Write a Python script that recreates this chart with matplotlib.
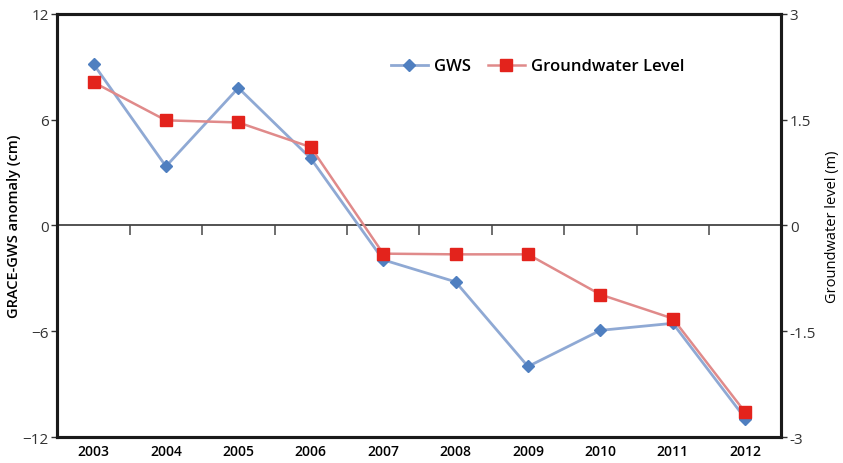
import matplotlib.pyplot as plt
import numpy as np

years = ["2003", "2004", "2005", "2006", "2007", "2008", "2009", "2010", "2011", "2012"]
gws = [9.15, 3.35, 7.8, 3.8, -1.95, -3.2, -8.0, -5.95, -5.55, -10.95]
gw_level = [2.03, 1.49, 1.46, 1.11, -0.40, -0.41, -0.41, -0.98, -1.32, -2.65]

plt.rcParams['font.family'] = ['Open Sans', 'DejaVu Sans']

fig, ax1 = plt.subplots(figsize=(8.43, 4.64), dpi=100)
fig.subplots_adjust(left=0.068, right=0.927, top=0.968, bottom=0.056)
ax2 = ax1.twinx()

x = np.arange(len(years))

l1 = ax1.plot(x, gws, color="#8fa9d4", lw=2, marker="D", ms=6,
              mfc="#4f7fc0", mec="#4f7fc0", label="GWS")
l2 = ax2.plot(x, gw_level, color="#e08a8a", lw=1.8, marker="s", ms=9,
              mfc="#e3231c", mec="#e3231c", label="Groundwater Level")

ax1.set_xlim(-0.5, len(years) - 0.5)
ax1.set_ylim(-12, 12)
ax1.set_yticks([-12, -6, 0, 6, 12])
ax2.set_ylim(-3, 3)
ax2.set_yticks([-3, -1.5, 0, 1.5, 3])
ax2.set_yticklabels(["-3", "-1.5", "0", "1.5", "3"])

ax1.set_xticks(x)
ax1.set_xticklabels(years, fontweight="semibold", fontsize=10)
ax1.tick_params(axis="x", length=0, pad=5)
ax1.tick_params(axis="y", length=4, width=1, direction="out", labelsize=11, colors="#333333", pad=2)
ax2.tick_params(axis="y", length=4, width=1, direction="out", labelsize=11, colors="#333333", pad=2)

for ax in (ax1, ax2):
    for s in ax.spines.values():
        s.set_linewidth(2.2)
        s.set_color("#1a1a1a")

# zero line with category separators (ticks hang below the line)
sec = ax1.secondary_xaxis(0.5)
sec.set_xticks(x[:-1] + 0.5)
sec.set_xticklabels([])
sec.tick_params(length=7, width=1.2, color="#555555", direction="in")
for s in sec.spines.values():
    s.set_color("#444444")
    s.set_linewidth(1.3)

ax1.set_ylabel("GRACE-GWS anomaly (cm)", fontweight="semibold", fontsize=10.5, labelpad=1)
ax2.set_ylabel("Groundwater level (m)", fontsize=10.5, labelpad=6)

lines = l1 + l2
labels = [l.get_label() for l in lines]
ax1.legend(lines, labels, loc="upper left", bbox_to_anchor=(0.44, 0.93), ncol=2,
           frameon=False, prop={"weight": "semibold", "size": 12},
           handlelength=2.2, columnspacing=1.0, handletextpad=0.4)

plt.savefig("out.png")
